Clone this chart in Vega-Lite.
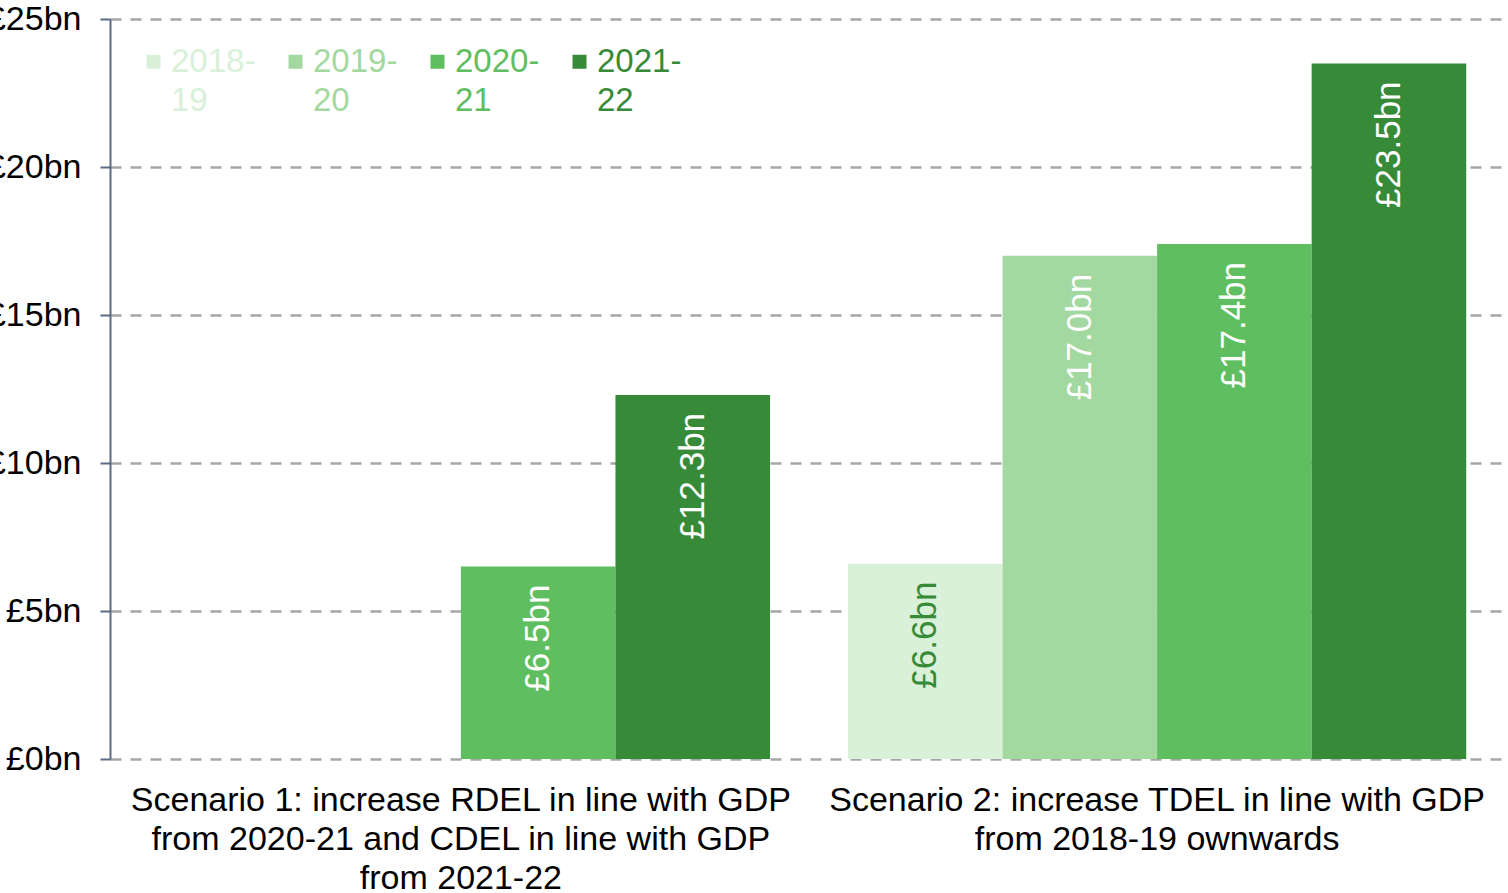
{
  "$schema": "https://vega.github.io/schema/vega-lite/v6.json",
  "width": 1398,
  "height": 740,
  "autosize": {"type": "none"},
  "padding": {"left": 110, "top": 19, "right": 0, "bottom": 134},
  "background": "white",
  "config": {
    "view": {"stroke": null},
    "font": "Liberation Sans"
  },
  "data": {
    "values": [
      {"scenario": "Scenario 1", "year": "2020-21", "value": 6.5},
      {"scenario": "Scenario 1", "year": "2021-22", "value": 12.3},
      {"scenario": "Scenario 2", "year": "2018-19", "value": 6.6},
      {"scenario": "Scenario 2", "year": "2019-20", "value": 17.0},
      {"scenario": "Scenario 2", "year": "2020-21", "value": 17.4},
      {"scenario": "Scenario 2", "year": "2021-22", "value": 23.5}
    ]
  },
  "transform": [
    {"calculate": "'£' + format(datum.value, '.1f') + 'bn'", "as": "label"}
  ],
  "encoding": {
    "x": {
      "field": "scenario",
      "type": "nominal",
      "scale": {"paddingInner": 0.112, "paddingOuter": 0.06},
      "axis": {
        "title": null,
        "domain": false,
        "ticks": false,
        "labelAngle": 0,
        "labelFontSize": 34,
        "labelColor": "#000000",
        "labelPadding": 24,
        "labelLineHeight": 39,
        "labelLimit": 0,
        "labelBaseline": "top",
        "labelExpr": "datum.value == 'Scenario 1' ? ['Scenario 1: increase RDEL in line with GDP', 'from 2020-21 and CDEL in line with GDP', 'from 2021-22'] : ['Scenario 2: increase TDEL in line with GDP', 'from 2018-19 ownwards']"
      }
    },
    "xOffset": {
      "field": "year",
      "type": "nominal",
      "scale": {"domain": ["2018-19", "2019-20", "2020-21", "2021-22"], "paddingInner": 0, "paddingOuter": 0}
    },
    "y": {
      "field": "value",
      "type": "quantitative",
      "scale": {"domain": [0, 25], "nice": false},
      "axis": {
        "title": null,
        "values": [0, 5, 10, 15, 20, 25],
        "labelExpr": "'£' + datum.value + 'bn'",
        "labelFontSize": 34,
        "labelColor": "#000000",
        "labelPadding": 19,
        "tickSize": 10,
        "tickColor": "#5b6b86",
        "tickWidth": 2,
        "domainColor": "#5b6b86",
        "domainWidth": 2,
        "gridColor": "#a6a6a6",
        "gridWidth": 2.5,
        "gridDash": [11, 9]
      }
    }
  },
  "layer": [
    {
      "mark": {"type": "bar", "strokeWidth": 0},
      "encoding": {
        "color": {
          "field": "year",
          "type": "nominal",
          "scale": {
            "domain": ["2018-19", "2019-20", "2020-21", "2021-22"],
            "range": ["#d9f0d9", "#a3d9a0", "#5fbe60", "#378a37"]
          },
          "legend": {
            "title": null,
            "orient": "none",
            "legendX": 27,
            "legendY": 26,
            "direction": "horizontal",
            "symbolType": "square",
            "symbolSize": 196,
            "symbolStrokeWidth": 0,
            "symbolOpacity": 1,
            "labelFontSize": 33,
            "labelOffset": 1,
            "labelLimit": 0,
            "columnPadding": 23,
            "labelExpr": "[slice(datum.label, 0, 5), slice(datum.label, 5)]",
            "encode": {
              "labels": {"update": {"fill": {"scale": "color", "field": "value"}, "lineHeight": {"value": 39}}}
            }
          }
        }
      }
    },
    {
      "mark": {
        "type": "text",
        "angle": 270,
        "align": "right",
        "baseline": "middle",
        "dx": -18,
        "fontSize": 35
      },
      "encoding": {
        "text": {"field": "label"},
        "color": {
          "condition": {"test": "datum.year == '2018-19'", "value": "#378a37"},
          "value": "#ffffff"
        }
      }
    }
  ]
}
